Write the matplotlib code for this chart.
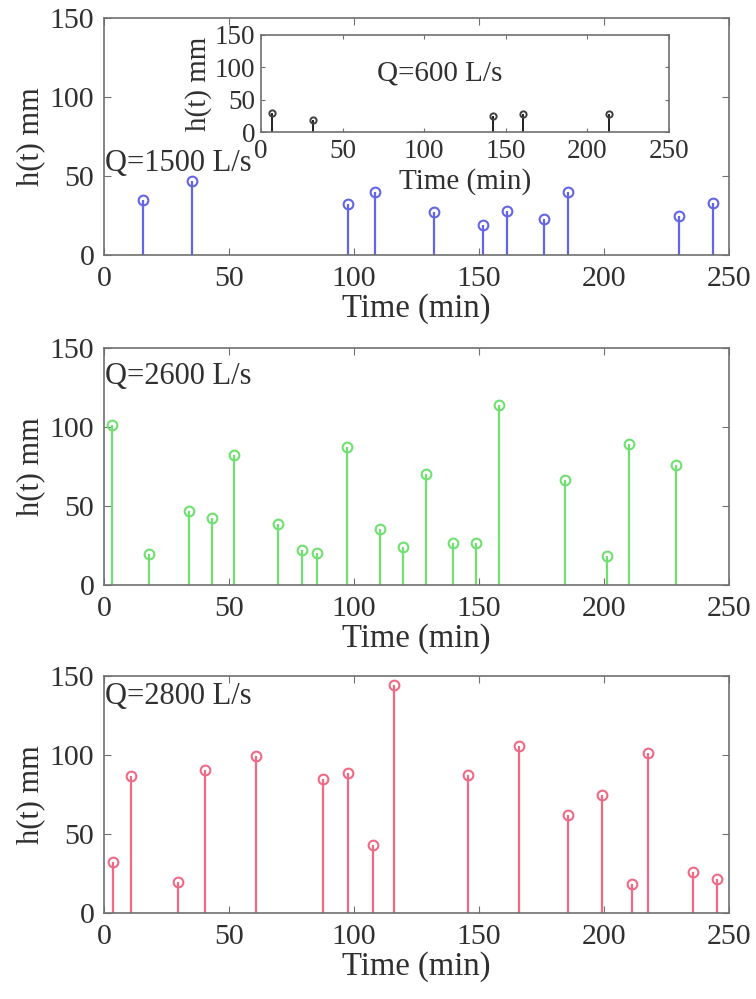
import matplotlib
matplotlib.use("Agg")
import matplotlib.pyplot as plt

plt.rcParams['font.family'] = ['Liberation Serif', 'DejaVu Serif']
plt.rcParams['mathtext.fontset'] = 'stix'

# Data
t_600 = [6.5, 32, 142, 160.5, 213]
h_600 = [29, 18, 24, 28, 28]

t_1500 = [15.5, 35, 97.5, 108.3, 132, 151.5, 161, 176, 185.5, 230, 243.5]
h_1500 = [35, 47, 32, 40, 27, 19, 28, 23, 40, 25, 33]

t_2600 = [3, 18, 34, 43, 52, 69.6, 79.2, 85, 97, 110.3, 119.5, 128.7, 139.4, 148.9, 158, 184.2, 201, 210, 228.6]
h_2600 = [101, 19.5, 47, 42.5, 82, 38.5, 22, 20, 87.5, 35.5, 24, 70.5, 26.5, 26.5, 114, 66.5, 18.5, 89.5, 76]

t_2800 = [3.5, 10.8, 29.5, 40.2, 60.7, 87.5, 97.5, 107.5, 116, 145.6, 165.9, 185.7, 199.1, 211.1, 217.4, 235.6, 245.1]
h_2800 = [32.5, 86.5, 19.5, 90.8, 99.5, 84.5, 88.5, 43, 144.5, 87.5, 105.8, 62, 75, 18.5, 101.5, 26, 21.5]

x_ticks = [0, 50, 100, 150, 200, 250]
y_ticks = [0, 50, 100, 150]
labels = ['Q=1500 L/s', 'Q=2600 L/s', 'Q=2800 L/s']
inset_label = 'Q=600 L/s'

colors = ['#6464e6', '#70e070', '#f06a86']

fig = plt.figure(figsize=(7.56, 9.99), dpi=100)

L, W = 104/756, (729-104)/756
H = 237/999
bottoms = [1-255/999, 1-585/999, 1-913/999]

spine_c = '#707070'
text_c = '#303030'

def style(ax, tsize=21.5, xpad=8, ypad=7, ticklen=5):
    ax.set_xlim(0, 250)
    ax.set_ylim(0, 150)
    ax.set_xticks(x_ticks)
    ax.set_yticks(y_ticks)
    ax.tick_params(direction='in', top=True, right=True, length=ticklen,
                   width=0.8, colors=spine_c, labelcolor=text_c,
                   labelsize=tsize)
    ax.tick_params(axis='x', pad=xpad)
    ax.tick_params(axis='y', pad=ypad)
    for s in ax.spines.values():
        s.set_color(spine_c)
        s.set_linewidth(1.2)

series = [(t_1500, h_1500), (t_2600, h_2600), (t_2800, h_2800)]
text_y = [58, 132, 137]
for i, ((t, h), c, b) in enumerate(zip(series, colors, bottoms)):
    ax = fig.add_axes([L, b, W, H])
    ml, sl, bl = ax.stem(t, h, basefmt=' ')
    plt.setp(sl, color=c, linewidth=1.6)
    plt.setp(ml, marker='o', markersize=7, markerfacecolor='none',
             markeredgecolor=c, markeredgewidth=1.5)
    style(ax)
    ax.set_xlabel('Time (min)', fontsize=23.5, color=text_c, labelpad=1)
    ax.set_ylabel('h(t) mm', fontsize=22, color=text_c, labelpad=3)
    ax.text(0.5, text_y[i], labels[i], fontsize=22, color=text_c,
            ha='left', va='center')

# inset
axi = fig.add_axes([261/756, 1-132/999, (669-261)/756, 97/999])
axi.set_facecolor('white')
ml, sl, bl = axi.stem(t_600, h_600, basefmt=' ')
plt.setp(sl, color='#202020', linewidth=1.4)
plt.setp(ml, marker='o', markersize=4.5, markerfacecolor='none',
         markeredgecolor='#404040', markeredgewidth=1.4)
style(axi, tsize=19.5, xpad=5, ypad=4, ticklen=3)
axi.set_xlabel('Time (min)', fontsize=21, color=text_c, labelpad=3)
axi.set_ylabel('h(t) mm', fontsize=21, color=text_c, labelpad=2)
axi.text(71, 91, inset_label, fontsize=21, color=text_c, ha='left', va='center')

fig.savefig('out.png', dpi=100)
